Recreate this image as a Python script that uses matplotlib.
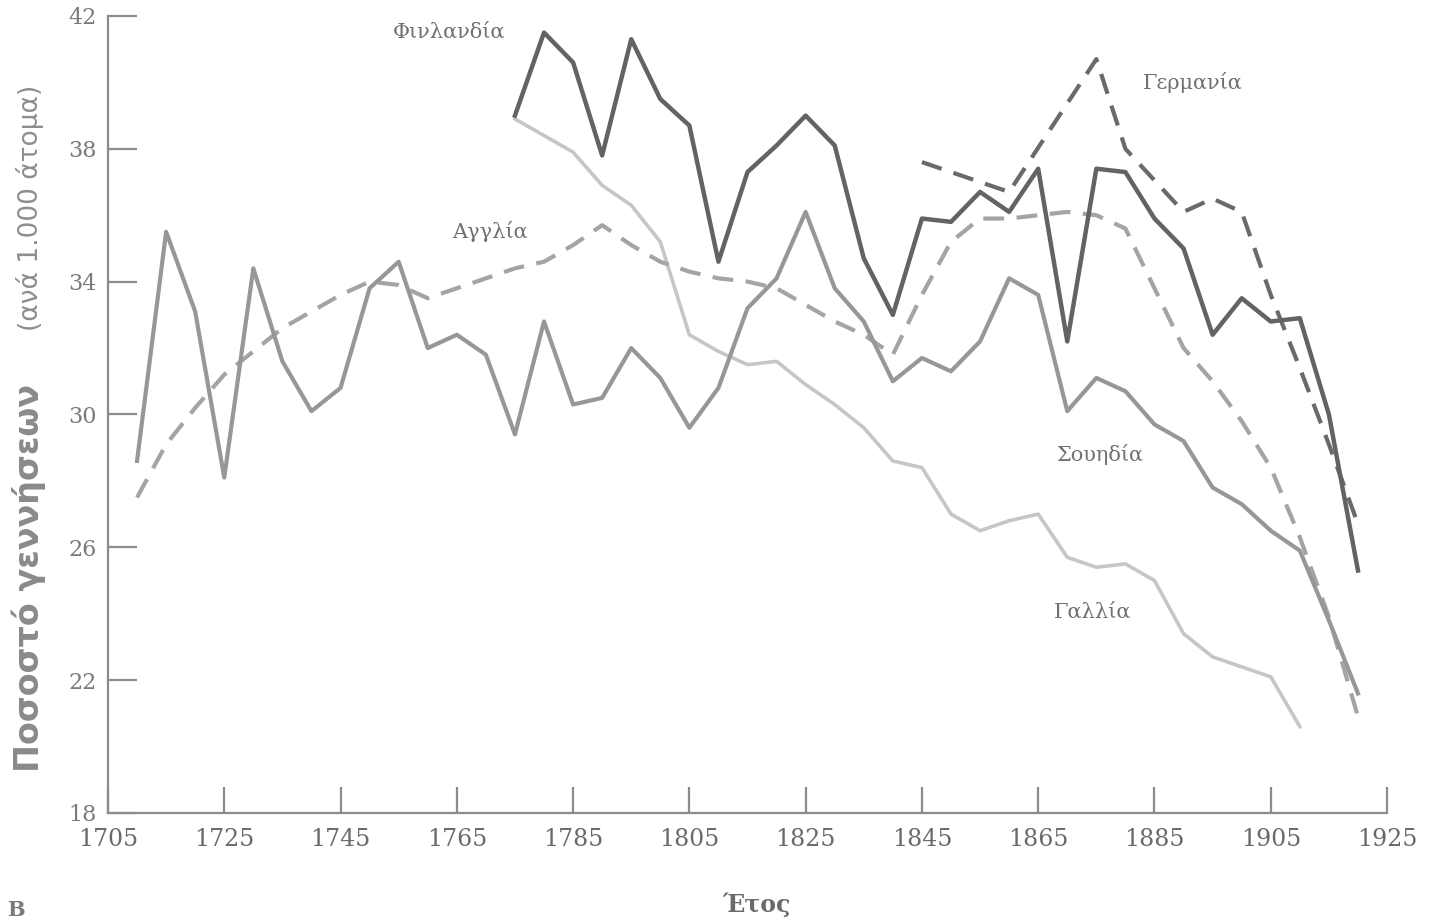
import matplotlib
matplotlib.use("Agg")
import matplotlib.pyplot as plt

# Birth rate per 1000 people
sweden_years = list(range(1710, 1925, 5))
sweden = [28.6, 35.5, 33.1, 28.1, 34.4, 31.6, 30.1, 30.8, 33.8, 34.6,
          32.0, 32.4, 31.8, 29.4, 32.8, 30.3, 30.5, 32.0, 31.1, 29.6,
          30.8, 33.2, 34.1, 36.1, 33.8, 32.8, 31.0, 31.7, 31.3, 32.2,
          34.1, 33.6, 30.1, 31.1, 30.7, 29.7, 29.2, 27.8, 27.3, 26.5,
          25.9, 23.8, 21.6]

england_years = list(range(1710, 1925, 5))
england = [27.5, 29.1, 30.2, 31.2, 31.9, 32.6, 33.1, 33.6, 34.0, 33.9,
           33.5, 33.8, 34.1, 34.4, 34.6, 35.1, 35.7, 35.1, 34.6, 34.3,
           34.1, 34.0, 33.8, 33.3, 32.8, 32.4, 31.8, 33.6, 35.2, 35.9,
           35.9, 36.0, 36.1, 36.0, 35.6, 33.8, 32.0, 31.0, 29.8, 28.4,
           26.3, 23.9, 20.9]

finland_years = list(range(1775, 1925, 5))
finland = [39.0, 41.5, 40.6, 37.8, 41.3, 39.5, 38.7, 34.6, 37.3, 38.1,
           39.0, 38.1, 34.7, 33.0, 35.9, 35.8, 36.7, 36.1, 37.4, 32.2,
           37.4, 37.3, 35.9, 35.0, 32.4, 33.5, 32.8, 32.9, 30.0, 25.3]

france_years = list(range(1775, 1915, 5))
france = [38.9, 38.4, 37.9, 36.9, 36.3, 35.2, 32.4, 31.9, 31.5, 31.6,
          30.9, 30.3, 29.6, 28.6, 28.4, 27.0, 26.5, 26.8, 27.0, 25.7,
          25.4, 25.5, 25.0, 23.4, 22.7, 22.4, 22.1, 20.6]

germany_years = [1845, 1860, 1875, 1880, 1890, 1895, 1900, 1905, 1910, 1915, 1920]
germany = [37.6, 36.7, 40.7, 38.0, 36.1, 36.5, 36.1, 33.6, 31.4, 29.1, 26.7]

x_ticks = list(range(1705, 1926, 20))
y_ticks = list(range(18, 43, 4))

fig = plt.figure(figsize=(14.32, 9.23), dpi=100)
ax = fig.add_axes([0.0754, 0.1192, 0.8932, 0.8635])

ax.plot(france_years, france, color='#c6c6c6', lw=2.6, zorder=2)
ax.plot(england_years, england, color='#a4a4a4', lw=3, ls=(0, (5, 3)), zorder=3)
ax.plot(sweden_years, sweden, color='#979797', lw=3, zorder=4)
ax.plot(germany_years, germany, color='#6a6a6a', lw=3, ls=(0, (5, 3)), zorder=5)
ax.plot(finland_years, finland, color='#636363', lw=3.2, zorder=6)

ax.set_xlim(1705, 1925)
ax.set_ylim(18, 42)
ax.set_xticks(x_ticks)
ax.set_yticks(y_ticks)

for s in ['top', 'right']:
    ax.spines[s].set_visible(False)
for s in ['left', 'bottom']:
    ax.spines[s].set_color('#8c8c8c')
    ax.spines[s].set_linewidth(1.6)
    ax.spines[s].set_clip_on(False)

ax.tick_params(axis='x', direction='in', length=19, width=1.6, color='#8c8c8c',
               pad=11, labelsize=17, labelcolor='#6a6a6a')
ax.tick_params(axis='y', direction='in', length=21, width=1.6, color='#8c8c8c',
               pad=8, labelsize=16, labelcolor='#7a7a7a')
for lab in ax.get_xticklabels() + ax.get_yticklabels():
    lab.set_family('DejaVu Serif')

lab_kw = dict(family='DejaVu Serif', fontsize=15, color='#707070',
              ha='center', va='center')
ax.text(1763.7, 41.5, 'Φινλανδία', **lab_kw)
ax.text(1891.6, 40.0, 'Γερμανία', **lab_kw)
ax.text(1770.7, 35.5, 'Αγγλία', **lab_kw)
ax.text(1875.6, 28.8, 'Σουηδία', **lab_kw)
ax.text(1874.4, 24.05, 'Γαλλία', **lab_kw)

fig.text(0.5286, 0.02, 'Έτος', family='DejaVu Serif', fontweight='bold',
         fontsize=17, color='#6a6a6a', ha='center', va='center')
fig.text(0.011, 0.014, 'Β', family='DejaVu Serif', fontweight='bold',
         fontsize=15, color='#7a7a7a', ha='center', va='center')

fig.text(0.02, 1 - 772 / 923, 'Ποσοστό γεννήσεων', rotation=90,
         fontweight='bold', fontsize=24, color='#8a8a8a', ha='center', va='bottom')
fig.text(0.021, 1 - 85 / 923, '(ανά 1.000 άτομα)', rotation=90,
         fontsize=19, color='#8e8e8e', ha='center', va='top')

fig.savefig('out.png', dpi=100, facecolor='white')
